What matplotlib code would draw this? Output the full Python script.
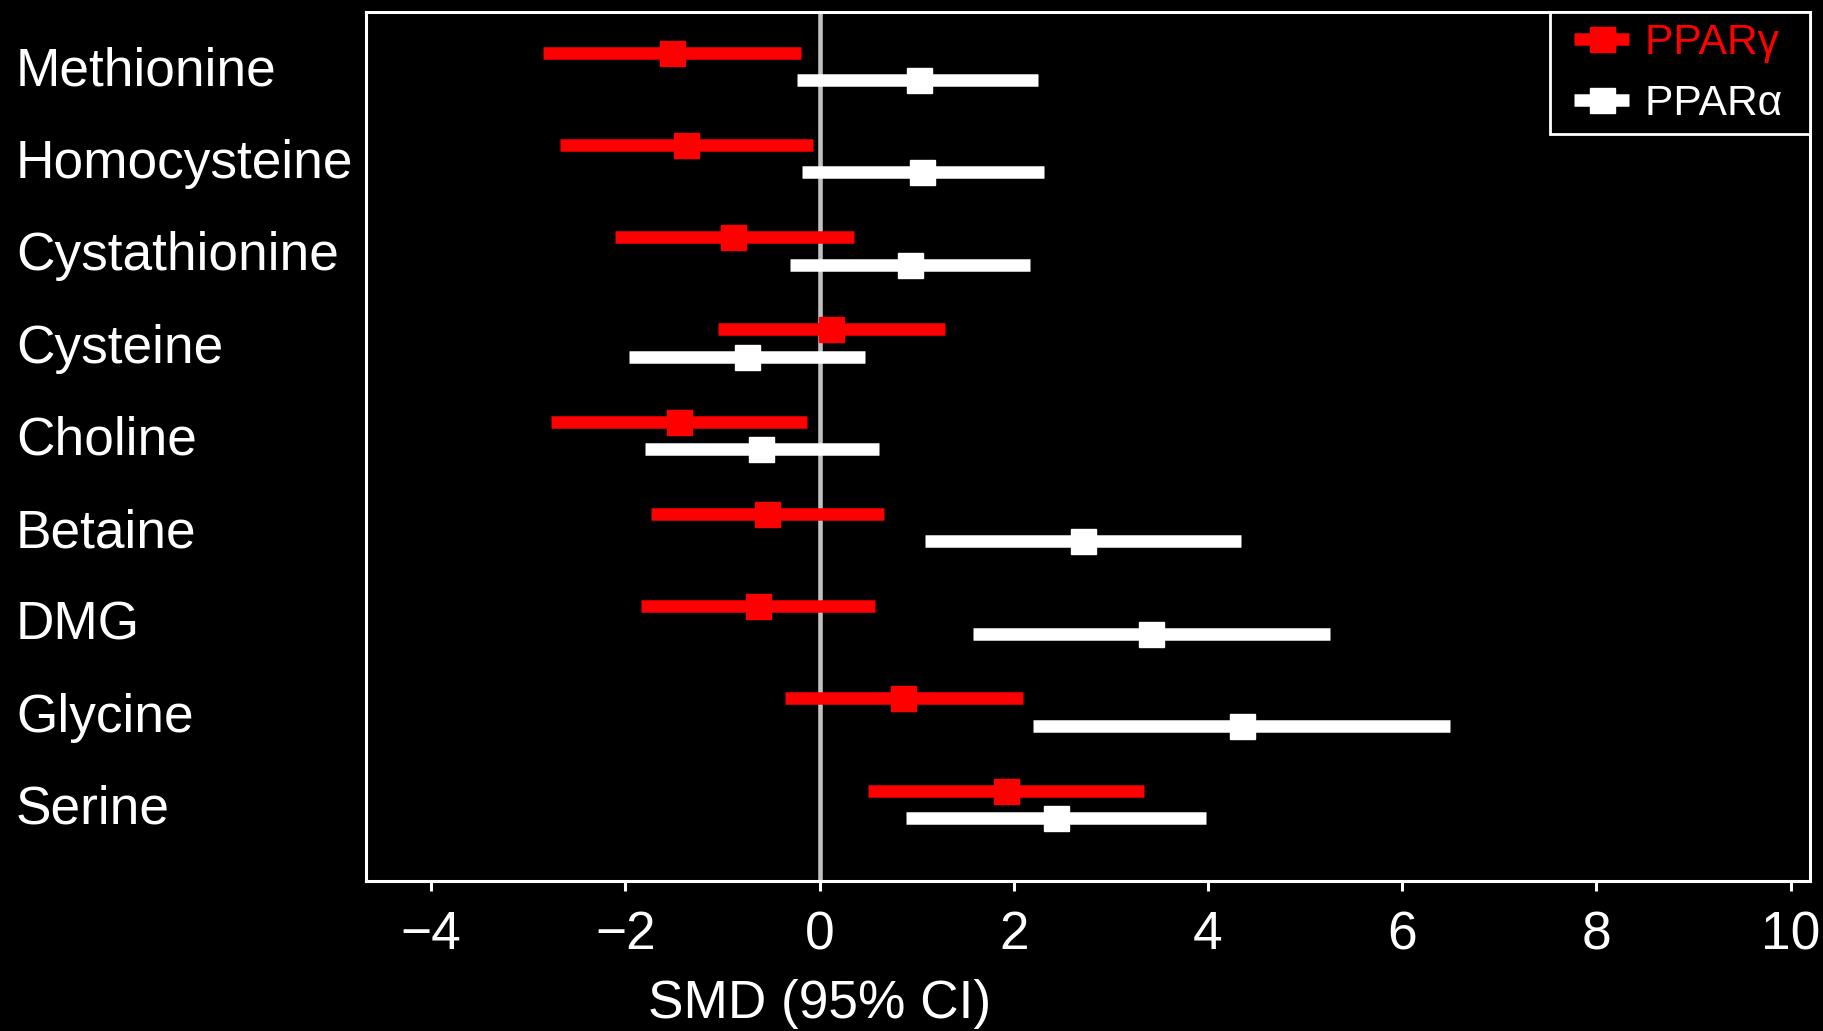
import matplotlib.pyplot as plt
from matplotlib.lines import Line2D
from matplotlib.legend_handler import HandlerLine2D

plt.rcParams['font.family'] = ['Liberation Sans', 'DejaVu Sans']

metabolites = ["Methionine", "Homocysteine", "Cystathionine", "Cysteine",
               "Choline", "Betaine", "DMG", "Glycine", "Serine"]

# PPARgamma: SMD with lower / upper 95% CI
gamma_smd = [-1.52, -1.38, -0.89, 0.12, -1.45, -0.54, -0.63, 0.86, 1.92]
gamma_lo = [-2.85, -2.67, -2.11, -1.05, -2.77, -1.74, -1.84, -0.36, 0.50]
gamma_hi = [-0.19, -0.07, 0.35, 1.29, -0.13, 0.66, 0.57, 2.10, 3.34]

# PPARalpha
alpha_smd = [1.02, 1.05, 0.93, -0.75, -0.60, 2.71, 3.41, 4.35, 2.43]
alpha_lo = [-0.23, -0.18, -0.30, -1.96, -1.80, 1.09, 1.58, 2.20, 0.89]
alpha_hi = [2.25, 2.31, 2.17, 0.47, 0.61, 4.34, 5.26, 6.49, 3.98]

n = len(metabolites)
ypos = [n - i for i in range(n)]
off = 0.15

fig = plt.figure(figsize=(18.23, 10.31), dpi=100, facecolor="black")
ax = fig.add_axes([0.2008, 0.1455, 0.7921, 0.8429])
ax.set_facecolor("black")

ax.axvline(0, color="#c0c0c0", lw=3.3, zorder=1)

for smd, lo, hi, col, dy in [(gamma_smd, gamma_lo, gamma_hi, "red", off),
                             (alpha_smd, alpha_lo, alpha_hi, "white", -off)]:
    xerr = [[s - l for s, l in zip(smd, lo)], [h - s for s, h in zip(smd, hi)]]
    ax.errorbar(smd, [y + dy for y in ypos], xerr=xerr, fmt="s", color=col,
                ecolor=col, elinewidth=9, capsize=0, markersize=18, zorder=3)

ax.set_xlim(-4.67, 10.2)
ax.set_ylim(0.17, 9.59)
ax.set_xticks([-4, -2, 0, 2, 4, 6, 8, 10])
ax.set_xticklabels(["\u22124", "\u22122", "0", "2", "4", "6", "8", "10"])
ax.set_yticks(ypos)
ax.set_yticklabels(metabolites)
for lab in ax.get_yticklabels():
    lab.set_horizontalalignment("left")

ax.tick_params(axis="x", colors="white", labelsize=38.3, length=7, width=2.2, pad=14)
ax.tick_params(axis="y", colors="white", labelsize=38.3, length=0, pad=252)
for sp in ax.spines.values():
    sp.set_color("white")
    sp.set_linewidth(2.2)

ax.set_xlabel("SMD (95% CI)", color="white", fontsize=38.3)
ax.xaxis.set_label_coords((0 + 4.67) / (10.2 + 4.67), -0.113)

handles = [Line2D([], [], color="red", lw=9, marker="s", markersize=18,
                  solid_capstyle="butt"),
           Line2D([], [], color="white", lw=9, marker="s", markersize=18,
                  solid_capstyle="butt")]
leg = ax.legend(handles, ["PPAR\u03b3\u2009\u2009", "PPAR\u03b1\u2009\u2009"],
                loc="upper right", borderaxespad=0, fontsize=30.6,
                handlelength=1.61, handletextpad=0.38, borderpad=0.25,
                labelspacing=0.5,
                handler_map={Line2D: HandlerLine2D(xpad=0.32)},
                facecolor="black", edgecolor="white", fancybox=False,
                labelcolor="linecolor", framealpha=1)
leg.get_frame().set_linewidth(2)

fig.savefig("out.png", dpi=100, facecolor="black")
